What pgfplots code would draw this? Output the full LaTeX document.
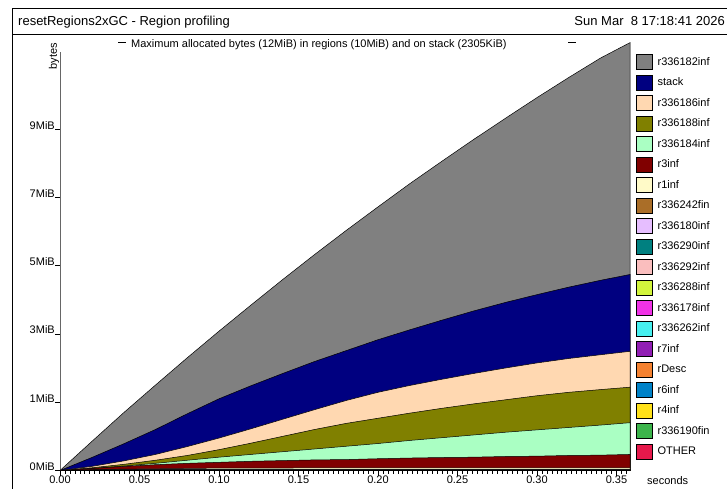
\documentclass[border=0pt]{standalone}
\usepackage{fontspec}
\setmainfont{Liberation Sans}
\usepackage{pgfplots}
\usepackage{pgfplotstable}
\pgfplotsset{compat=1.18}

\definecolor{cGray}{HTML}{808080}
\definecolor{cNavy}{HTML}{000080}
\definecolor{cPeach}{HTML}{FFD8B1}
\definecolor{cOlive}{HTML}{808000}
\definecolor{cMint}{HTML}{AAFFC3}
\definecolor{cMaroon}{HTML}{800000}
\definecolor{cBeige}{HTML}{FFFAC8}
\definecolor{cBrown}{HTML}{AA6E28}
\definecolor{cLav}{HTML}{E6BEFF}
\definecolor{cTeal}{HTML}{008080}
\definecolor{cPink}{HTML}{FABEBE}
\definecolor{cLime}{HTML}{D2F53C}
\definecolor{cMag}{HTML}{F032E6}
\definecolor{cCyan}{HTML}{46F0F0}
\definecolor{cPurp}{HTML}{911EB4}
\definecolor{cOrange}{HTML}{F58231}
\definecolor{cBlue}{HTML}{0082C8}
\definecolor{cYellow}{HTML}{FFE119}
\definecolor{cGreen}{HTML}{3CB44B}
\definecolor{cRed}{HTML}{E6194B}

% cumulative tops of the stacked layers (MB)
\pgfplotstableread{
t      B     R     Gr    O     P     N     G
0      0     0     0     0     0     0     0
0.02   0.02  0.06  0.06  0.08  0.12  0.38  0.85
0.04   0.04  0.12  0.13  0.18  0.28  0.78  1.69
0.06   0.05  0.17  0.21  0.30  0.47  1.20  2.50
0.08   0.06  0.21  0.30  0.44  0.70  1.66  3.30
0.10   0.07  0.24  0.39  0.61  0.95  2.10  4.08
0.12   0.07  0.27  0.47  0.80  1.22  2.48  4.84
0.14   0.07  0.29  0.55  1.00  1.50  2.84  5.59
0.16   0.08  0.31  0.63  1.20  1.78  3.19  6.32
0.18   0.08  0.32  0.71  1.38  2.05  3.51  7.03
0.20   0.08  0.345 0.79  1.53  2.29  3.83  7.72
0.22   0.08  0.365 0.88  1.68  2.49  4.12  8.40
0.24   0.08  0.38  0.96  1.82  2.67  4.40  9.05
0.26   0.08  0.39  1.04  1.95  2.84  4.67  9.69
0.28   0.08  0.41  1.12  2.07  3.00  4.92  10.31
0.30   0.08  0.42  1.19  2.19  3.15  5.15  10.92
0.32   0.08  0.44  1.26  2.29  3.28  5.37  11.51
0.34   0.08  0.45  1.33  2.37  3.39  5.57  12.08
0.3585 0.08  0.47  1.40  2.44  3.49  5.74  12.53
}\data

\newcommand{\sm}{\fontsize{11}{13}\selectfont}

\begin{document}
\begin{tikzpicture}[x=1pt,y=1pt]
\useasboundingbox (0,0) rectangle (727,488);
% frame and header
\draw[line width=0.8pt] (12,-2) -- (12,479.5) -- (730,479.5);
\draw[line width=0.8pt] (12,454) -- (730,454);
\node[anchor=base west,inner sep=0pt] at (18,462) {\fontsize{13}{15}\selectfont resetRegions2xGC - Region profiling};
\node[anchor=base east,inner sep=0pt] at (725,462) {\fontsize{13}{15}\selectfont Sun Mar\ \ 8 17:18:41 2026};
\node[anchor=west,inner sep=0pt] at (131,443) {\sm Maximum allocated bytes (12MiB) in regions (10MiB) and on stack (2305KiB)};
\draw[line width=0.6pt] (118,446) -- (126,446);
\draw[line width=0.6pt] (568,446) -- (576,446);
\node[rotate=90,anchor=east,inner sep=0pt] at (54,445) {\sm bytes};
\node[anchor=west,inner sep=0pt] at (647,7) {\sm seconds};

\begin{axis}[
  at={(60pt,17.5pt)}, anchor=south west,
  scale only axis, width=570pt, height=418.3pt,
  xmin=0, xmax=0.3585, ymin=0, ymax=12.25,
  axis x line*=bottom, axis y line*=left,
  axis line style={black!60, line width=1pt},
  clip=false,
  xtick={0,0.05,0.10,0.15,0.20,0.25,0.30,0.35},
  xticklabels={0.00,0.05,0.10,0.15,0.20,0.25,0.30,0.35},
  minor xtick={0,0.003125,...,0.3585},
  ytick={0,2,4,6,8,10},
  yticklabels={0MiB,1MiB,3MiB,5MiB,7MiB,9MiB},
  tick align=outside,
  major tick length=5pt, minor tick length=3pt,
  tick style={black, line width=0.7pt},
  xticklabel style={font=\sm, inner sep=0pt, anchor=north},
  yticklabel style={font=\sm, inner sep=0pt, anchor=base east},
  legend style={at={(1.0105,0.9957)}, anchor=north west, draw=none, fill=none,
    inner sep=0pt, outer sep=0pt, row sep=4.9pt, column sep=5pt, font=\sm,
    nodes={inner sep=0pt}, cells={anchor=west}},
  legend image code/.code={\draw[#1, draw=black, line width=0.6pt] (0pt,-7.5pt) rectangle (16pt,7.5pt);},
  every axis plot/.append style={draw=black, line width=0.5pt},
]
\addplot[fill=cGray] table[x=t,y=G]{\data} \closedcycle;
\addlegendentry{r336182inf}
\addplot[fill=cNavy] table[x=t,y=N]{\data} \closedcycle;
\addlegendentry{stack}
\addplot[fill=cPeach] table[x=t,y=P]{\data} \closedcycle;
\addlegendentry{r336186inf}
\addplot[fill=cOlive] table[x=t,y=O]{\data} \closedcycle;
\addlegendentry{r336188inf}
\addplot[fill=cMint] table[x=t,y=Gr]{\data} \closedcycle;
\addlegendentry{r336184inf}
\addplot[fill=cMaroon] table[x=t,y=R]{\data} \closedcycle;
\addlegendentry{r3inf}
\addplot[fill=cBeige] table[x=t,y=B]{\data} \closedcycle;
\addlegendentry{r1inf}
\addplot[fill=cBrown] coordinates {(0,0) (0.05,0.035) (0.3585,0.035)} \closedcycle;
\addlegendentry{r336242fin}
\addplot[fill=cLav] coordinates {(0,0) (0.05,0.03) (0.3585,0.03)} \closedcycle;
\addlegendentry{r336180inf}
\addplot[fill=cTeal] coordinates {(0,0) (0.05,0.027) (0.3585,0.027)} \closedcycle;
\addlegendentry{r336290inf}
\addplot[fill=cPink] coordinates {(0,0) (0.05,0.024) (0.3585,0.024)} \closedcycle;
\addlegendentry{r336292inf}
\addplot[fill=cLime] coordinates {(0,0) (0.05,0.021) (0.3585,0.021)} \closedcycle;
\addlegendentry{r336288inf}
\addplot[fill=cMag] coordinates {(0,0) (0.05,0.018) (0.3585,0.018)} \closedcycle;
\addlegendentry{r336178inf}
\addplot[fill=cCyan] coordinates {(0,0) (0.05,0.015) (0.3585,0.015)} \closedcycle;
\addlegendentry{r336262inf}
\addplot[fill=cPurp] coordinates {(0,0) (0.05,0.012) (0.3585,0.012)} \closedcycle;
\addlegendentry{r7inf}
\addplot[fill=cOrange] coordinates {(0,0) (0.05,0.010) (0.3585,0.010)} \closedcycle;
\addlegendentry{rDesc}
\addplot[fill=cBlue] coordinates {(0,0) (0.05,0.008) (0.3585,0.008)} \closedcycle;
\addlegendentry{r6inf}
\addplot[fill=cYellow] coordinates {(0,0) (0.05,0.006) (0.3585,0.006)} \closedcycle;
\addlegendentry{r4inf}
\addplot[fill=cGreen] coordinates {(0,0) (0.05,0.004) (0.3585,0.004)} \closedcycle;
\addlegendentry{r336190fin}
\addplot[fill=cRed] coordinates {(0,0) (0.05,0.002) (0.3585,0.002)} \closedcycle;
\addlegendentry{OTHER}
\end{axis}
\end{tikzpicture}
\end{document}
